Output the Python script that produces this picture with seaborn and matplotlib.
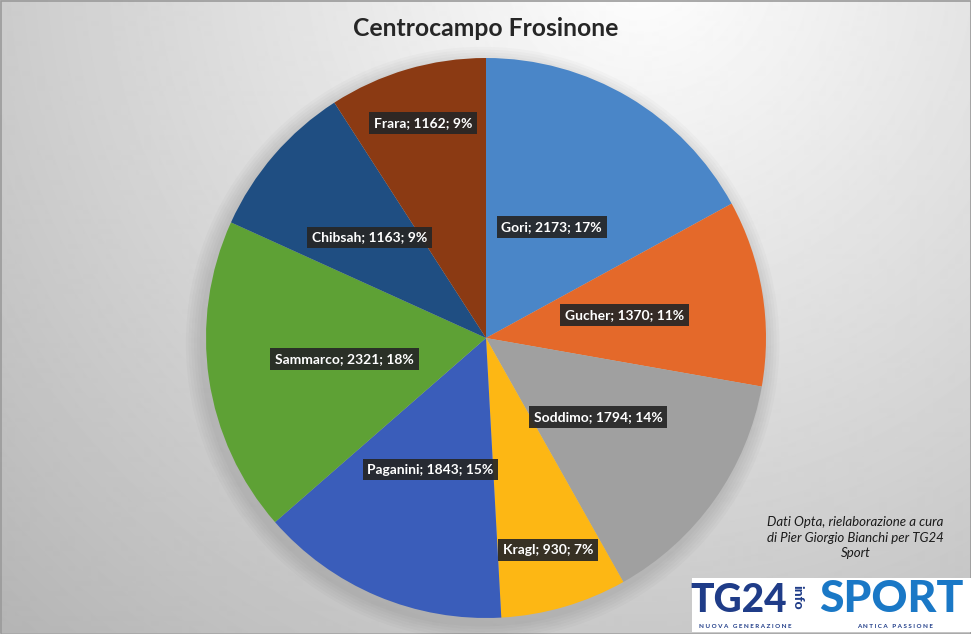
import numpy as np
import matplotlib.pyplot as plt
import seaborn as sns
from matplotlib.patches import Rectangle, Circle

# dati
giocatori = ['Gori', 'Gucher', 'Soddimo', 'Kragl', 'Paganini', 'Sammarco', 'Chibsah', 'Frara']
minuti = [2173, 1370, 1794, 930, 1843, 2321, 1163, 1162]
percentuali = [17, 11, 14, 7, 15, 18, 9, 9]
colori = ['#4A86C8', '#E4692A', '#A0A0A0', '#FDB714', '#3A5DBA', '#5EA135', '#1F4E82', '#8B3A13']
titolo = 'Centrocampo Frosinone'
nota = 'Dati Opta, rielaborazione a cura\ndi Pier Giorgio Bianchi per TG24\nSport'

# distanza delle etichette dal centro (frazione del raggio)
dist_etichette = [0.46, 0.50, 0.49, 0.79, 0.51, 0.51, 0.55, 0.80]

sns.set_theme(style='white')
plt.rcParams['font.family'] = ['Lato', 'DejaVu Sans']

fig = plt.figure(figsize=(9.71, 6.34), dpi=100)

# sfondo con gradiente radiale
bg = fig.add_axes([0, 0, 1, 1])
yy, xx = np.mgrid[0:634, 0:971]
d = np.clip(np.hypot(xx - 640, yy + 40) / 950, 0, 1)
bg.imshow(1 - 0.30 * d, cmap='gray', vmin=0, vmax=1, aspect='auto')
bg.set_xlim(0, 971)
bg.set_ylim(634, 0)
bg.add_patch(Rectangle((0.5, 0.5), 970, 633, fill=False, ec='#9A9A9A', lw=1.2))
bg.axis('off')

# torta
ax = fig.add_axes([192 / 971, 2 / 634, 588 / 971, 588 / 634])
for i in range(6):
    ax.add_patch(Circle((-0.012, -0.02), 1.0 + 0.01 * (6 - i), color='black', alpha=0.02,
                        lw=0, clip_on=False))
wedges, _ = ax.pie(minuti, colors=sns.color_palette(colori), startangle=90, counterclock=False,
                   radius=1, wedgeprops=dict(linewidth=0))
ax.set_xlim(-1.05, 1.05)
ax.set_ylim(-1.05, 1.05)
ax.set_aspect('equal')
ax.axis('off')

for w, nome, m, p, r in zip(wedges, giocatori, minuti, percentuali, dist_etichette):
    ang = np.deg2rad((w.theta1 + w.theta2) / 2)
    ax.text(r * np.cos(ang), r * np.sin(ang), f'{nome}; {m}; {p}%',
            ha='center', va='center', color='white', fontsize=10, fontweight='bold',
            bbox=dict(boxstyle='square,pad=0.35', fc='#262626', ec='none', alpha=0.92))

fig.text(0.5, 0.955, titolo, ha='center', va='center', fontsize=17.8, fontweight='bold', color='#262626')

fig.text(0.881, 0.152, nota, ha='center', va='center', fontsize=9.5, style='italic',
         color='#1A1A1A', linespacing=1.35)

# logo TG24 info SPORT
bg.add_patch(Rectangle((692, 578), 279, 54, fc='white', ec='none'))
bg.text(739, 600, 'TG24', ha='center', va='center', fontsize=28, fontweight='black',
        color='#1F3C88')
bg.text(797, 597, 'info', ha='center', va='center', fontsize=10, fontweight='black',
        color='#1F3C88', rotation=-90)
bg.text(891, 599, 'SPORT', ha='center', va='center', fontsize=32, fontweight='black',
        color='#1A78C6')
bg.text(745, 626, 'N U O V A   G E N E R A Z I O N E', ha='center', va='center', fontsize=4.5,
        fontweight='bold', color='#1F3C88')
bg.text(895, 626, 'A N T I C A   P A S S I O N E', ha='center', va='center', fontsize=4.5,
        fontweight='bold', color='#1F3C88')

fig.savefig('out.png', dpi=100)
